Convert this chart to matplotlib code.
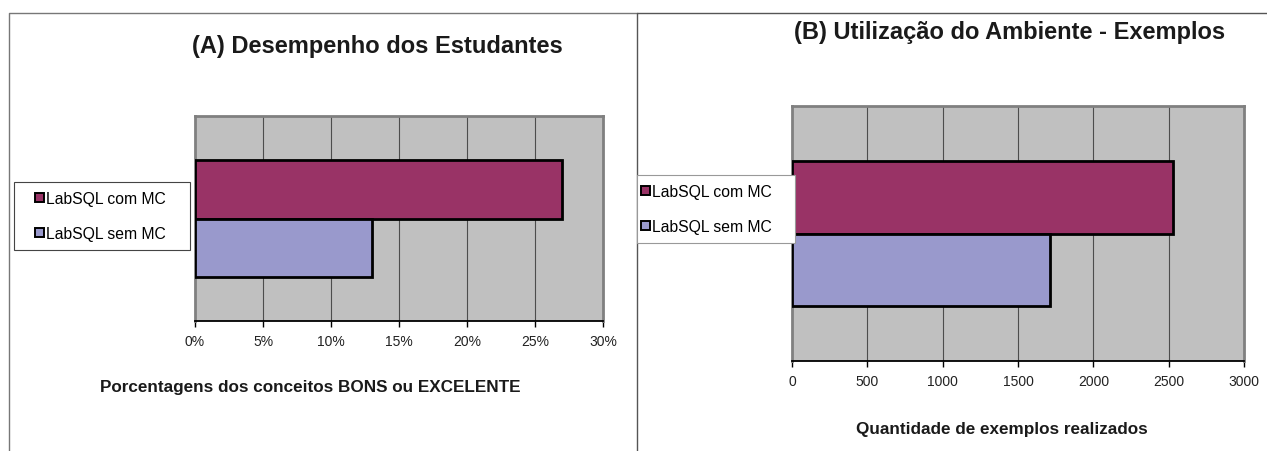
import matplotlib
matplotlib.use("Agg")
import matplotlib.pyplot as plt
from matplotlib.lines import Line2D
from matplotlib.patches import Patch, Rectangle
from matplotlib.ticker import FuncFormatter

plt.rcParams['font.family'] = ['Liberation Sans', 'DejaVu Sans']

# data
series = ["LabSQL com MC", "LabSQL sem MC"]
colors = ["#993366", "#9999CC"]
pct_bons = [27, 13]          # (A) % de conceitos BONS ou EXCELENTE
exemplos = [2530, 1710]      # (B) quantidade de exemplos realizados
pct_ticks = [0, 5, 10, 15, 20, 25, 30]
ex_ticks = [0, 500, 1000, 1500, 2000, 2500, 3000]

W, H = 1267, 452
BAR_H = 0.285


def fx(px):
    return px / W


def fy(py):
    return 1 - py / H


def axesBox(x0, y0, x1, y1):
    return [fx(x0), fy(y1), (x1 - x0) / W, (y1 - y0) / H]


def drawPanel(ax, values, ticks, fmt):
    # two bars for one category, top one first
    ypos = [BAR_H / 2, -BAR_H / 2]
    for i in range(len(values)):
        ax.barh([ypos[i]], [values[i]], height=BAR_H, color=colors[i],
                edgecolor="black", linewidth=2.0, zorder=3)
    ax.set_ylim(-0.5, 0.5)
    ax.set_xlim(ticks[0], ticks[-1])
    ax.set_xticks(ticks)
    ax.xaxis.set_major_formatter(FuncFormatter(fmt))
    ax.set_yticks([])
    ax.set_facecolor("#C0C0C0")
    ax.xaxis.grid(True, color="#4d4d4d", linewidth=0.8)
    ax.set_axisbelow(True)
    for s in ["top", "left", "right"]:
        ax.spines[s].set_color("#808080")
        ax.spines[s].set_linewidth(2.0)
    ax.spines["bottom"].set_color("black")
    ax.spines["bottom"].set_linewidth(1.3)
    ax.tick_params(axis="x", length=4, width=1, color="black", pad=5,
                   labelsize=10, labelcolor="#222222")


def addLegend(fig, box, marker_x, center_y, edge):
    x0, y0, x1, y1 = box
    fig.add_artist(Rectangle((fx(x0), fy(y1)), (x1 - x0) / W, (y1 - y0) / H,
                             transform=fig.transFigure, facecolor="white",
                             edgecolor=edge, linewidth=0.8, zorder=4))
    handles = [Patch(facecolor=c, edgecolor="black", linewidth=1.4) for c in colors]
    leg = fig.legend(handles, series, loc="center left",
                     bbox_to_anchor=(fx(marker_x), fy(center_y)),
                     frameon=False, fontsize=11.3, borderpad=0, borderaxespad=0,
                     handlelength=0.55, handleheight=0.55, handletextpad=0.15,
                     labelspacing=1.3)
    leg.set_zorder(5)


fig = plt.figure(figsize=(W / 100, H / 100), dpi=100)

# panel frames
fig.add_artist(Line2D([fx(9), fx(9), fx(637)], [fy(452), fy(14), fy(14)],
                      transform=fig.transFigure, color="#777777", linewidth=1.0))
fig.add_artist(Line2D([fx(637), fx(637), fx(1267)], [fy(452), fy(14), fy(14)],
                      transform=fig.transFigure, color="#555555", linewidth=1.0))

# (A)
axA = fig.add_axes(axesBox(195, 117, 603, 322))
drawPanel(axA, pct_bons, pct_ticks, lambda v, p: f"{v:.0f}%")
fig.text(fx(377), fy(47), "(A) Desempenho dos Estudantes", ha="center",
         va="center", fontsize=17, fontweight="bold", color="#1a1a1a")
fig.text(fx(310), fy(388), "Porcentagens dos conceitos BONS ou EXCELENTE",
         ha="center", va="center", fontsize=12.3, fontweight="bold",
         color="#1a1a1a")
addLegend(fig, (14, 183, 190, 251), 35, 217, "#444444")

# (B)
axB = fig.add_axes(axesBox(792, 107, 1244, 362))
drawPanel(axB, exemplos, ex_ticks, lambda v, p: f"{v:.0f}")
fig.text(fx(1010), fy(33), "(B) Utilização do Ambiente - Exemplos",
         ha="center", va="center", fontsize=17, fontweight="bold",
         color="#1a1a1a")
fig.text(fx(1002), fy(430), "Quantidade de exemplos realizados", ha="center",
         va="center", fontsize=12.3, fontweight="bold", color="#1a1a1a")
addLegend(fig, (637, 176, 795, 244), 641, 210, "#999999")

fig.savefig("out.png", dpi=100)
plt.close(fig)
